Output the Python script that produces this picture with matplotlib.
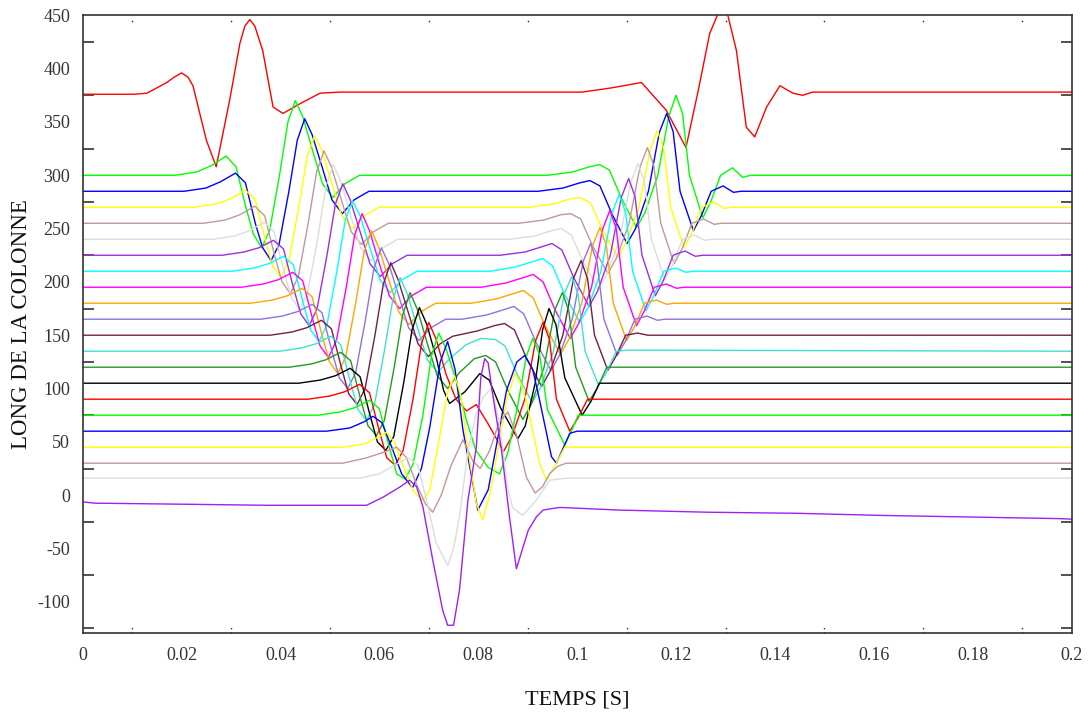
import numpy as np
import matplotlib
matplotlib.use('Agg')
import matplotlib.pyplot as plt
import matplotlib.transforms as mtransforms

plt.rcParams['font.family'] = ['Liberation Serif', 'DejaVu Serif']

# time in ms, value = position along the column
t_375 = [0, 10.5, 13, 17, 18.5, 20, 21.3, 22.3, 25, 27, 29.7, 31.8, 32.8, 33.8, 34.8, 36.4, 38.5, 40.5, 43.9, 48, 52,
         101, 107, 113, 118, 122, 124.5, 126.8, 128.8, 130.2, 132.2, 134.2, 135.9, 138.3, 141, 143.6, 145.6, 147.6, 200]
v_375 = [376, 376, 377, 387, 392, 396, 392, 384, 333, 308, 370, 424, 440, 446, 440, 417, 364, 358, 367, 377, 378,
         378, 382, 387, 361, 326, 380, 433, 455, 455, 417, 345, 336, 364, 384, 377, 375, 378, 378]

t_300 = [0, 18.6, 23, 26, 29, 31, 33, 34.5, 36.2, 37.8, 39.8, 41.5, 43, 44.5, 46.5, 48.5, 50.6, 53, 56,
         94, 99, 102.5, 104.5, 106.5, 109, 112, 113.7, 116.3, 118.5, 120, 121.3, 122.7, 125.4, 127, 129, 131.4, 133.5, 135, 200]
v_300 = [300, 300, 303, 309, 318, 308, 270, 245, 232, 248, 300, 350, 370, 355, 323, 292, 279, 292, 300,
         300, 303, 308, 310, 305, 278, 251, 265, 300, 355, 375, 358, 300, 260, 275, 300, 307, 298, 300, 300]

t_285 = [0, 20.5, 24.9, 27.9, 30.9, 32.9, 34.9, 36.4, 38.1, 39.7, 41.7, 43.4, 44.9, 46.4, 48.4, 50.4, 52.5, 54.9, 57.9,
         92.1, 97.1, 100.6, 102.6, 104.6, 107.1, 110.1, 111.8, 114.4, 116.6, 118.1, 119.4, 120.8, 123.5, 125.1, 127.1, 129.5, 131.6, 133.1, 200]
v_285 = [285, 285, 288, 294, 302, 293, 255, 232, 220, 235, 285, 333, 353, 338, 308, 277, 264, 277, 285,
         285, 288, 293, 295, 290, 263, 236, 250, 285, 340, 358, 341, 285, 248, 262, 285, 290, 284, 285, 285]

t_270 = [0, 22.5, 26.9, 29.9, 32.9, 34.9, 36.9, 38.4, 40.1, 41.7, 43.7, 45.4, 46.9, 48.4, 50.4, 52.4, 54.5, 56.9, 59.9,
         90.2, 95.2, 98.7, 100.7, 102.7, 105.2, 108.2, 109.9, 112.5, 114.7, 116.2, 117.5, 118.9, 121.6, 123.2, 125.2, 127.6, 129.7, 131.2, 200]
v_270 = [270, 270, 273, 278, 286, 277, 240, 215, 204, 220, 270, 318, 337, 323, 292, 262, 250, 262, 270,
         270, 273, 278, 279, 274, 248, 223, 237, 270, 323, 342, 325, 270, 232, 246, 270, 275, 269, 270, 270]

t_255 = [0, 24.4, 28.8, 31.8, 34.8, 36.8, 38.8, 40.3, 42.0, 43.6, 45.6, 47.3, 48.8, 50.3, 52.3, 54.3, 56.4, 58.8, 61.8,
         88.2, 93.2, 96.7, 98.7, 100.7, 103.2, 106.2, 107.9, 110.5, 112.7, 114.2, 115.5, 116.9, 119.6, 121.2, 123.2, 125.6, 127.7, 129.2, 200]
v_255 = [255, 255, 258, 263, 271, 262, 225, 200, 189, 205, 255, 303, 323, 308, 277, 247, 235, 247, 255,
         255, 258, 263, 264, 259, 233, 208, 222, 255, 308, 326, 309, 255, 217, 231, 255, 259, 254, 255, 255]

t_240 = [0, 26.3, 30.7, 33.7, 36.7, 38.7, 40.7, 42.2, 43.9, 45.5, 47.5, 49.2, 50.7, 52.2, 54.2, 56.2, 58.3, 60.7, 63.7,
         86.3, 91.3, 94.8, 96.8, 98.8, 101.3, 104.3, 106.0, 108.6, 110.8, 112.3, 113.6, 115.0, 117.7, 119.3, 121.3, 123.7, 125.8, 127.3, 200]
v_240 = [240, 240, 243, 248, 256, 247, 210, 185, 174, 190, 240, 290, 310, 294, 262, 232, 220, 232, 240,
         240, 243, 248, 250, 244, 218, 193, 207, 240, 293, 311, 294, 240, 202, 216, 240, 244, 239, 240, 240]

t_225 = [0, 28.2, 32.6, 35.6, 38.6, 40.6, 42.6, 44.1, 45.8, 47.4, 49.4, 51.1, 52.6, 54.1, 56.1, 58.1, 60.2, 62.6, 65.6,
         84.4, 89.4, 92.9, 94.9, 96.9, 99.4, 102.4, 104.1, 106.7, 108.9, 110.4, 111.7, 113.1, 115.8, 117.4, 119.4, 121.8, 123.9, 125.4, 200]
v_225 = [225, 225, 228, 232, 239, 231, 195, 170, 159, 175, 225, 273, 292, 277, 247, 217, 205, 217, 225,
         225, 228, 233, 236, 230, 203, 177, 191, 225, 279, 297, 280, 225, 187, 201, 225, 229, 224, 225, 225]

t_210 = [0, 30.2, 34.6, 37.6, 40.6, 42.6, 44.6, 46.1, 47.8, 49.4, 51.4, 53.1, 54.6, 56.1, 58.1, 60.1, 62.2, 64.6, 67.6,
         82.5, 87.5, 91.0, 93.0, 95.0, 97.5, 100.5, 102.2, 104.8, 107.0, 108.5, 109.8, 111.2, 113.9, 115.5, 117.5, 119.9, 122.0, 123.5, 200]
v_210 = [210, 210, 213, 217, 224, 216, 180, 155, 144, 160, 210, 258, 276, 262, 232, 202, 190, 202, 210,
         210, 214, 219, 222, 215, 188, 162, 176, 210, 264, 282, 265, 210, 173, 187, 210, 213, 209, 210, 210]

t_195 = [0, 32.1, 36.5, 39.5, 42.5, 44.5, 46.5, 48.0, 49.7, 51.3, 53.3, 55.0, 56.5, 58.0, 60.0, 62.0, 64.1, 66.5, 69.5,
         80.6, 85.6, 89.1, 91.1, 93.1, 95.6, 98.6, 100.3, 102.9, 105.1, 106.6, 107.9, 109.3, 112.0, 113.6, 115.6, 118.0, 120.1, 121.6, 200]
v_195 = [195, 195, 198, 202, 209, 201, 165, 140, 129, 145, 195, 244, 264, 248, 217, 187, 175, 187, 195,
         195, 199, 204, 207, 200, 173, 147, 161, 195, 249, 267, 250, 195, 159, 173, 195, 198, 194, 195, 195]

t_180 = [0, 34.0, 38.4, 41.4, 44.4, 46.4, 48.4, 49.9, 51.6, 53.2, 55.2, 56.9, 58.4, 59.9, 61.9, 63.9, 66.0, 68.4, 71.4,
         78.6, 83.6, 87.1, 89.1, 91.1, 93.6, 96.6, 98.3, 100.9, 103.1, 104.6, 105.9, 107.3, 110.0, 111.6, 113.6, 116.0, 118.1, 119.6, 200]
v_180 = [180, 180, 183, 187, 194, 186, 150, 125, 114, 130, 180, 228, 248, 232, 202, 172, 160, 172, 180,
         180, 184, 189, 192, 185, 158, 132, 146, 180, 234, 251, 234, 180, 145, 158, 180, 183, 179, 180, 180]

t_165 = [0, 36.0, 40.4, 43.4, 46.4, 48.4, 50.4, 51.9, 53.6, 55.2, 57.2, 58.9, 60.4, 61.9, 63.9, 65.9, 68.0, 70.4, 73.4,
         76.7, 81.7, 85.2, 87.2, 89.2, 91.7, 94.7, 96.4, 99.0, 101.2, 102.7, 104.0, 105.4, 108.1, 109.7, 111.7, 114.1, 116.2, 117.7, 200]
v_165 = [165, 165, 168, 172, 179, 171, 135, 110, 100, 115, 165, 213, 232, 217, 187, 157, 145, 157, 165,
         165, 169, 174, 177, 170, 143, 117, 131, 165, 219, 236, 219, 165, 131, 144, 165, 168, 164, 165, 165]

t_150 = [0, 37.9, 42.3, 45.3, 48.3, 50.3, 52.3, 53.8, 55.5, 57.1, 59.1, 60.8, 62.3, 63.8, 65.8, 67.8, 69.9, 72.3,
         74.8, 79.8, 83.3, 85.3, 87.3, 89.8, 92.8, 94.5, 97.1, 99.3, 100.8, 102.1, 103.5, 106.2, 107.8, 109.8, 112.2, 114.3, 200]
v_150 = [150, 150, 153, 157, 164, 156, 120, 95, 85, 100, 150, 198, 218, 202, 172, 142, 130, 142,
         149, 154, 159, 161, 155, 128, 102, 116, 150, 204, 220, 203, 150, 117, 130, 150, 152, 150, 150]

t_135 = [0, 39.8, 44.2, 47.2, 50.2, 52.2, 54.2, 55.7, 57.4, 59.0, 61.0, 62.7, 64.2, 65.7, 67.7, 69.7, 71.8,
         74.2, 77.5, 80.5, 83.4, 85.4, 87.9, 90.9, 92.6, 95.2, 97.4, 98.9, 100.2, 101.6, 104.3, 105.9, 107.9, 110.3, 200]
v_135 = [135, 135, 138, 142, 149, 141, 105, 80, 70, 85, 135, 183, 204, 188, 157, 127, 115,
         128, 141, 147, 146, 140, 113, 87, 101, 135, 189, 205, 188, 135, 103, 115, 135, 136, 135]

t_120 = [0, 41.8, 46.2, 49.2, 52.2, 54.2, 56.2, 57.7, 59.4, 61.0, 63.0, 64.7, 66.2, 67.7, 69.7, 71.7, 73.8,
         76.2, 79.2, 81.5, 83.5, 86.0, 89.0, 90.7, 93.3, 95.5, 97.0, 98.3, 99.7, 102.4, 104.0, 106.0, 200]
v_120 = [120, 120, 123, 127, 134, 126, 90, 65, 56, 70, 120, 169, 190, 174, 142, 112, 100,
         115, 128, 131, 125, 98, 71, 85, 120, 174, 190, 173, 120, 88, 100, 120, 120]

t_105 = [0, 43.7, 48.1, 51.1, 54.1, 56.1, 58.1, 59.6, 61.3, 62.9, 64.9, 66.6, 68.1, 69.6, 71.6, 73.0,
         74.2, 77.3, 80.3, 82.2, 84.5, 88.0, 89.5, 91.5, 93.0, 94.3, 95.7, 97.5, 101.0, 102.8, 104.5, 200]
v_105 = [105, 105, 108, 112, 119, 111, 75, 50, 42, 55, 105, 155, 176, 160, 127, 98,
         86, 97, 114, 108, 82, 53, 65, 105, 155, 175, 160, 110, 75, 88, 105, 105]

t_90 = [0, 45.6, 50.0, 53.0, 56.0, 58.0, 60.0, 61.5, 63.2, 64.8, 66.8, 68.5, 70.0, 71.5, 73.5,
        75.5, 77.6, 79.6, 82.1, 85.1, 86.8, 89.4, 91.6, 93.1, 94.4, 95.8, 98.5, 100.1, 102.1, 200]
v_90 = [90, 90, 93, 97, 104, 96, 60, 35, 28, 42, 90, 142, 162, 146, 113,
        90, 79, 85, 66, 41, 55, 90, 145, 162, 146, 90, 60, 72, 90, 90]

t_75 = [0, 47.6, 52.0, 55.0, 58.0, 60.0, 62.0, 63.5, 65.2, 66.8, 68.8, 70.5, 72.0, 73.5,
        75.5, 77.5, 79.5, 82.0, 84.3, 86.0, 88.0, 89.7, 91.0, 92.4, 94.0, 97.5, 99.0, 100.2, 200]
v_75 = [75, 75, 78, 82, 89, 81, 45, 20, 15, 29, 75, 130, 152, 137,
        108, 72, 42, 26, 20, 40, 85, 130, 147, 132, 80, 47, 62, 75, 75]

t_60 = [0, 49.3, 54, 57, 58.7, 60.5, 62.5, 64.5, 66.7, 68.5, 70.2, 72.3, 73.8, 75.3, 76.9, 78.9, 79.9,
        82, 84, 85.7, 87.8, 89.4, 91, 92.4, 94.8, 95.8, 98.5, 100, 200]
v_60 = [60, 60, 63, 69, 74, 68, 45, 20, 7, 25, 64, 125, 144, 118, 61, 11, -14,
        5, 55, 98, 125, 131, 118, 89, 36, 30, 58, 60, 60]

t_45 = [0, 52.6, 57, 60, 61.4, 63, 65, 67, 68.8, 70.2, 72, 73.7, 75.2, 76.4, 77.6, 79.6, 80.9,
        82.3, 83.7, 85.7, 87.4, 88.6, 89.7, 92.4, 93.8, 96.1, 97.5, 200]
v_45 = [45, 45, 48, 55, 59, 50, 25, 3, -5, 5, 50, 95, 112, 95, 52, -8, -23,
        0, 36, 89, 114, 105, 89, 30, 14, 33, 45, 45]

t_30 = [0, 52.6, 57.4, 60.7, 63.5, 65.5, 67.5, 69.3, 70.8, 72.5, 74.5, 76.9, 78.9, 80.4,
        82.3, 84.2, 86, 87.8, 89.7, 91.5, 93, 94.4, 96, 97.8, 200]
v_30 = [30, 30, 35, 40, 45, 35, 10, -8, -16, 0, 28, 52, 32, 25,
        42, 68, 78, 55, 17, 2, 8, 20, 27, 30, 30]

t_15 = [0, 56, 60, 63, 65.8, 67.8, 69.8, 71.5, 73.8, 75, 76.2, 77.9, 79.5, 81,
        82.6, 84.2, 86, 87, 89, 91.7, 94.4, 97.8, 200]
v_15 = [16, 16, 20, 28, 35, 28, -10, -45, -66, -50, -20, 42, 75, 92,
        100, 70, 5, -12, -19, -5, 14, 16, 16]

t_m7 = [0, 2.4, 20.6, 37.4, 57.4, 60.7, 64.1, 66.1, 67.5, 68.8, 70.8, 72.8, 73.8, 75.0, 76.2, 77.9, 79.6, 80.5,
        81.3, 82.0, 82.8, 84.7, 86.3, 87.7, 90.1, 91.8, 93.1, 95.0, 96.5, 108.6, 126.4, 144.4, 161.6, 179.4, 197.6, 200]
v_m7 = [-6.3, -7.5, -8.5, -9.5, -9.5, -2, 7.5, 14, 8, -11, -61, -108, -122, -122, -89, -5, 45, 110,
        128, 124, 98, 42, -20, -69, -33, -20, -14, -12.5, -11.5, -14, -16, -17, -19, -20.5, -22, -22.5]

colors = ['#ff0000', '#00ff00', '#0000ff', '#ffff00', '#c09898', '#dcdcdc', '#9a30e0', '#00ffff',
          '#ff00ff', '#ffa500', '#9370db', '#702048', '#40e0d0', '#229922', '#000000',
          '#ff0000', '#00ff00', '#0000ff', '#ffff00', '#c09898', '#dcdcdc', '#a020f0']

series = [(t_375, v_375), (t_300, v_300), (t_285, v_285), (t_270, v_270), (t_255, v_255),
          (t_240, v_240), (t_225, v_225), (t_210, v_210), (t_195, v_195), (t_180, v_180),
          (t_165, v_165), (t_150, v_150), (t_135, v_135), (t_120, v_120), (t_105, v_105),
          (t_90, v_90), (t_75, v_75), (t_60, v_60), (t_45, v_45), (t_30, v_30),
          (t_15, v_15), (t_m7, v_m7)]

x_ticks = [0, 0.02, 0.04, 0.06, 0.08, 0.1, 0.12, 0.14, 0.16, 0.18, 0.2]
x_labels = ['0', '0.02', '0.04', '0.06', '0.08', '0.1', '0.12', '0.14', '0.16', '0.18', '0.2']
x_minor = [0.01, 0.03, 0.05, 0.07, 0.09, 0.11, 0.13, 0.15, 0.17, 0.19]
y_ticks = [450, 400, 350, 300, 250, 200, 150, 100, 50, 0, -50, -100]
y_labels = ['450', '400', '350', '300', '250', '200', '150', '100', '50', '0', '-50', '-100']
y_minor = [425, 375, 325, 275, 225, 175, 125, 75, 25, -25, -75, -125]

fig = plt.figure(figsize=(10.91, 7.13), dpi=100)
ax = fig.add_axes([0.0758, 0.1126, 0.9065, 0.8659])

for (t, v), c in zip(series, colors):
    ax.plot(np.array(t) / 1000.0, v, color=c, lw=1.0, solid_joinstyle='round')

ax.set_xlim(0, 0.2)
ax.set_ylim(-129, 450)

ax.set_xticks(x_ticks, labels=x_labels)
ax.set_yticks(y_ticks, labels=y_labels)
ax.set_yticks(y_minor, minor=True)
ax.tick_params(axis='both', which='major', length=0, labelsize=13, labelcolor='#333333')
ax.tick_params(axis='x', which='major', pad=10)
ax.tick_params(axis='y', which='major', pad=9)
ax.tick_params(axis='y', which='minor', direction='in', length=8, width=1.2,
               color='#333333', left=True, right=True)

# small dotted marks between the x labels
trans = mtransforms.blended_transform_factory(ax.transData, ax.transAxes)
ax.vlines(x_minor, 0.0, 0.012, transform=trans, colors='#333333', lw=1.0,
          linestyles=(0, (1, 2)), clip_on=False)
ax.plot(x_minor, [0.991] * len(x_minor), transform=trans, ls='none', marker='o',
        ms=1.2, mew=0, color='#333333')

for s in ax.spines.values():
    s.set_linewidth(1.2)
    s.set_color('#333333')

ax.set_xlabel('TEMPS [S]', fontsize=16, color='#111111')
ax.xaxis.set_label_coords(0.5, -0.094)
ax.set_ylabel('LONG DE LA COLONNE', fontsize=16.5, color='#111111')
ax.yaxis.set_label_coords(-0.0515, 0.5)

fig.savefig('out.png', dpi=100)
